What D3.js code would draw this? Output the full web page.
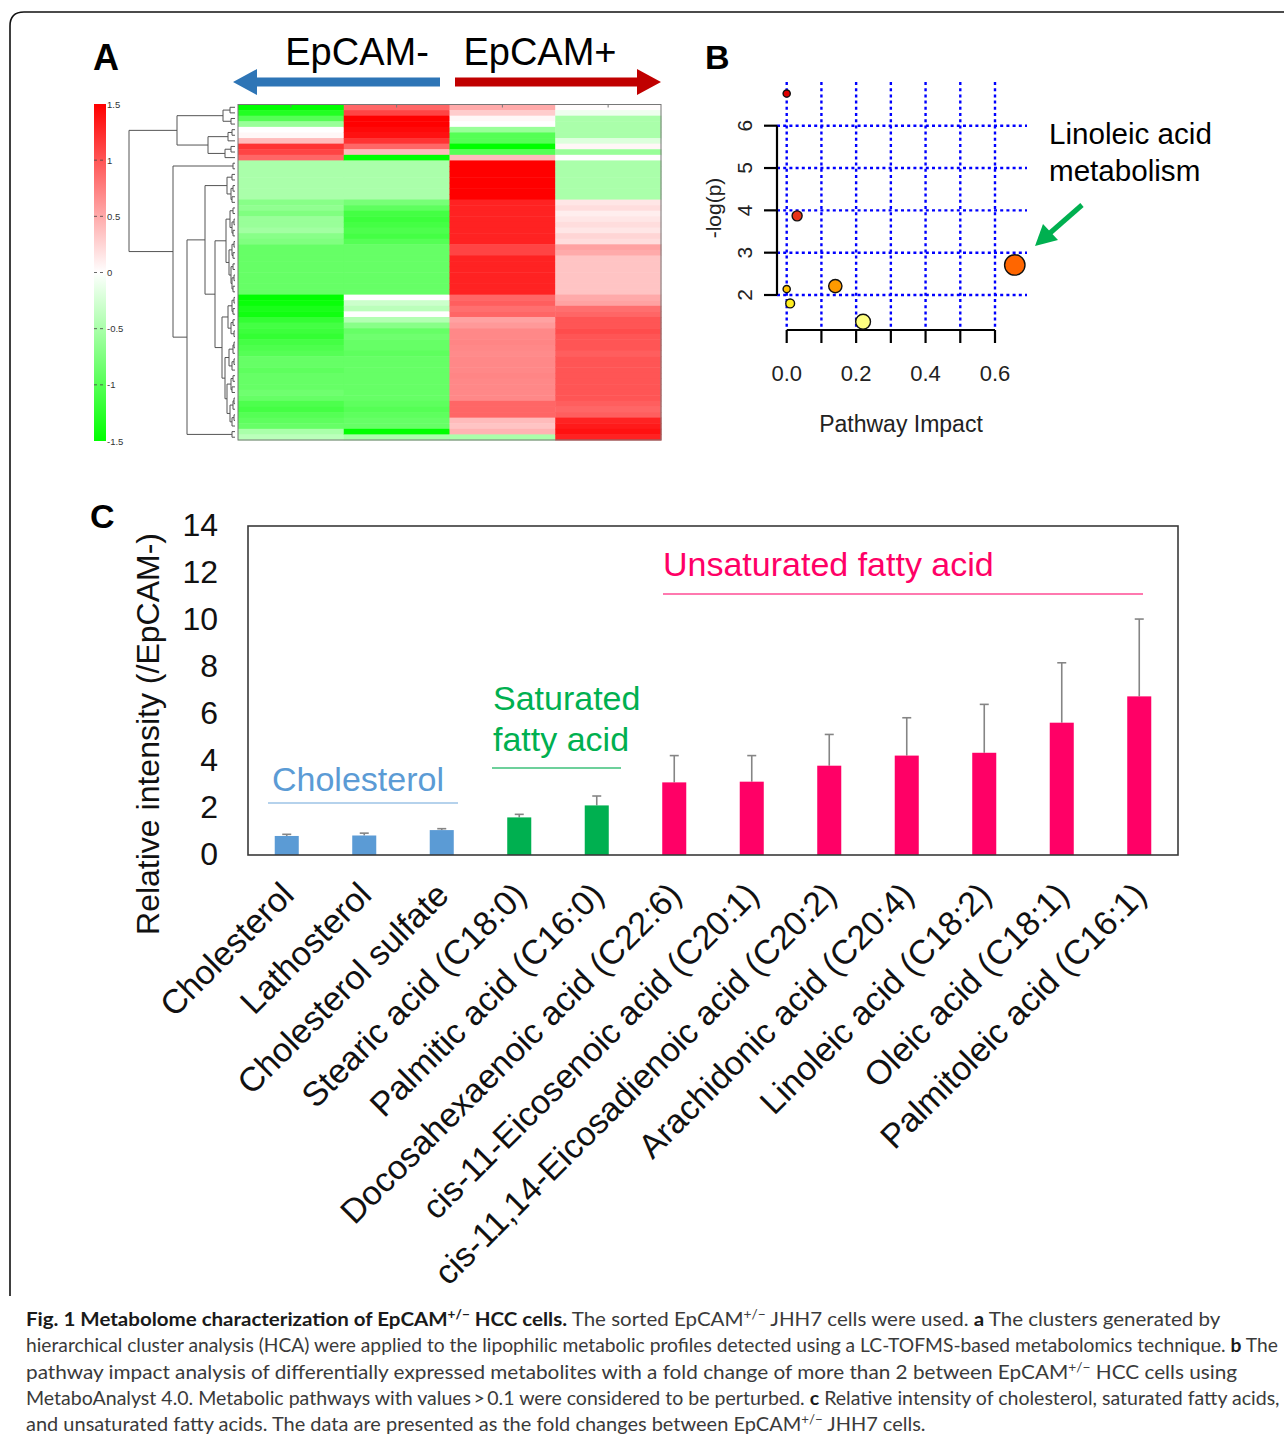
<!DOCTYPE html>
<html><head><meta charset="utf-8">
<script src="https://cdn.jsdelivr.net/npm/d3@7"></script>
<style>body{margin:0;background:#fff}svg{display:block}</style>
</head><body>
<svg id="c" width="1284" height="1444"></svg>
<script>
// ---------- DATA ----------
// Panel A heatmap (z-scores, rows top->bottom), 4 samples
const heatSamples = ["EpCAM- 1","EpCAM- 2","EpCAM+ 1","EpCAM+ 2"];
const epcamNeg1 = [-1.5,-1.3,-1.0,-0.6,0.0,0.05,0.4,1.2,1.1,0.9,
 -0.5,-0.5,-0.5,-0.5,-0.5,-0.5,-0.5,
 -0.7,-0.65,-0.75,-0.6,-0.6,-0.55,-0.7,-0.75,
 -0.9,-0.9,-0.9,-0.9,-0.9,-0.9,-0.9,-0.9,-0.9,
 -1.5,-1.45,-1.35,-1.4,
 -1.2,-1.1,-1.15,-1.2,-1.1,-1.05,-1.0,
 -0.9,-0.9,-0.95,-0.9,-0.9,-0.9,-0.85,-0.9,
 -1.05,-1.1,-1.0,-0.95,-0.9,
 -0.5,-0.4];
const epcamNeg2 = [0.9,1.1,1.5,1.5,1.45,1.4,1.2,0.9,0.4,-1.5,
 -0.5,-0.5,-0.5,-0.5,-0.5,-0.5,-0.5,
 -0.8,-0.95,-1.1,-1.15,-1.1,-1.05,-1.1,-1.0,
 -0.9,-0.9,-0.9,-0.9,-0.9,-0.9,-0.9,-0.9,-0.9,
 0.0,-0.3,-0.4,0.0,-0.45,-0.7,
 -0.9,-0.85,-0.9,-0.9,-0.95,-0.9,-0.9,-0.9,-0.9,-0.9,-0.9,-0.9,-0.9,-0.95,-1.0,-0.95,-0.9,-0.9,
 -1.5,-0.5];
const epcamPos1 = [0.5,0.3,0.05,0.0,-0.6,-1.0,-1.0,-1.5,-1.0,0.4,
 1.5,1.5,1.5,1.5,1.5,1.5,1.5,
 1.3,1.3,1.3,1.3,1.3,1.3,1.3,1.3,
 1.1,1.1,
 1.3,1.3,1.3,1.3,1.3,1.3,1.3,
 0.9,0.95,0.85,0.9,
 0.55,0.6,
 0.7,0.7,0.72,0.7,0.68,0.7,0.7,0.7,0.72,0.7,0.7,0.7,0.7,
 0.9,0.9,0.9,
 0.4,0.35,
 0.45,-0.5];
const epcamPos2 = [0.02,-0.1,-0.5,-0.5,-0.5,-0.5,-0.2,0.05,-0.6,0.0,
 -0.5,-0.5,-0.5,-0.5,-0.5,-0.5,-0.5,
 0.15,0.2,0.1,0.15,0.2,0.15,0.25,0.2,
 0.55,0.5,
 0.35,0.35,0.35,0.35,0.35,0.35,0.35,
 0.5,0.55,
 0.85,0.9,
 1.0,1.0,1.05,1.0,1.0,1.0,0.95,1.0,1.0,1.0,1.0,1.0,1.0,1.0,1.0,0.95,0.9,0.95,
 1.3,1.35,1.4,1.3];
const colorbarTicks = [1.5,1,0.5,0,-0.5,-1,-1.5];
// Row dendrogram: [height, left, right]; leaves are row indices
const B7 = [9,[5,[2,18,19],[3,[1,20,21],[2,22,23]]],[6,[3,[1,24,25],[2,26,27]],[4,[2,28,29],[3,[1,30,31],[2,32,33]]]]];
const B8 = [13,[7,[3,[1,34,35],[2,36,37]],[4,[2,38,39],[1,40,41]]],[10,[6,[2,[1,42,43],44],[3,[1,45,46],47]],[8,[4,[2,48,49],[3,50,51]],[5,[2,[1,52,53],54],[3,[1,55,56],57]]]]];
const dendroTree = [106,
  [58,[12,[5,0,1],[4,2,3]],[27,[7,[3,4,5],6],[10,[4,7,8],9]]],
  [62,[2,10,11],[48,[30,[8,[3,12,13],[4,[2,14,15],[3,16,17]]],[20,B7,B8]],[3,58,59]]]];

// Panel B pathway impact
const pathImpact = [0.0, 0.03, 0.0, 0.01, 0.14, 0.22, 0.657];
const pathLogP   = [6.76, 3.87, 2.14, 1.80, 2.21, 1.37, 2.71];
const impactXTicks = [0,0.1,0.2,0.3,0.4,0.5,0.6];
const impactXLabels = [0,0.2,0.4,0.6];
const logPTicks = [2,3,4,5,6];

// Panel C bars
const metabolites = ["Cholesterol","Lathosterol","Cholesterol sulfate","Stearic acid (C18:0)","Palmitic acid (C16:0)",
 "Docosahexaenoic acid (C22:6)","cis-11-Eicosenoic acid (C20:1)","cis-11,14-Eicosadienoic acid (C20:2)",
 "Arachidonic acid (C20:4)","Linoleic acid (C18:2)","Oleic acid (C18:1)","Palmitoleic acid (C16:1)"];
const metaboliteGroup = ["chol","chol","chol","sat","sat","unsat","unsat","unsat","unsat","unsat","unsat","unsat"];
const relIntensity = [0.81,0.83,1.06,1.60,2.11,3.09,3.12,3.80,4.23,4.35,5.63,6.75];
const relError     = [0.07,0.10,0.06,0.13,0.40,1.14,1.11,1.33,1.61,2.06,2.55,3.29];
const yTicksC = [0,2,4,6,8,10,12,14];

// ---------- DRAW ----------
const svg = d3.select("#c");
const AR = "Liberation Sans, Arial, Helvetica, sans-serif";

// outer frame
svg.append("path").attr("d","M1300,12 H24 Q10,12 10,26 V1296")
  .attr("fill","none").attr("stroke","#111").attr("stroke-width",1.6);

// ===== Panel A =====
svg.append("text").attr("x",93).attr("y",70).attr("font-family",AR).attr("font-weight","bold")
  .attr("font-size",36).text("A");
svg.append("text").attr("x",357).attr("y",65).attr("text-anchor","middle").attr("font-family",AR)
  .attr("font-size",38).text("EpCAM-");
svg.append("text").attr("x",540).attr("y",65).attr("text-anchor","middle").attr("font-family",AR)
  .attr("font-size",38).text("EpCAM+");
// arrows
function arrow(x0,x1,y,th,hl,hh,col){
  const d = x1 < x0 ? -1 : 1;
  const xb = x1 - d*hl;
  svg.append("path").attr("d",`M${x0},${y-th/2} L${xb},${y-th/2} L${xb},${y-hh/2} L${x1},${y} L${xb},${y+hh/2} L${xb},${y+th/2} L${x0},${y+th/2} Z`)
    .attr("fill",col);
}
arrow(440,233,82,9,24,26,"#2e75b6");
arrow(455,661,82,9,24,26,"#c00000");

const heatX = d3.scaleBand().domain(d3.range(4)).range([238,661]);
const heatY = d3.scaleBand().domain(d3.range(epcamNeg1.length)).range([104.5,440]);
const heatColor = d3.scaleLinear().domain([-1.5,0,1.5]).range(["#00ff00","#ffffff","#ff0000"]).clamp(true);
const heatCols = [epcamNeg1,epcamNeg2,epcamPos1,epcamPos2];
const cells = [];
heatCols.forEach((col,ci)=>col.forEach((v,ri)=>cells.push({ci,ri,v})));
svg.append("g").selectAll("rect").data(cells).join("rect")
  .attr("x",d=>heatX(d.ci)).attr("y",d=>heatY(d.ri))
  .attr("width",heatX.bandwidth()+0.5).attr("height",heatY.bandwidth()+0.5)
  .attr("fill",d=>heatColor(d.v));
svg.append("rect").attr("x",238).attr("y",104.5).attr("width",423).attr("height",335.5)
  .attr("fill","none").attr("stroke","#777").attr("stroke-width",1);
svg.append("g").selectAll("line").data(d3.range(4)).join("line")
  .attr("x1",d=>heatX(d)+heatX.bandwidth()/2).attr("x2",d=>heatX(d)+heatX.bandwidth()/2)
  .attr("y1",104.5).attr("y2",107.5).attr("stroke","#777");

// color bar
const cbY = d3.scaleLinear().domain([1.5,-1.5]).range([104,441]);
const defs = svg.append("defs");
const gr = defs.append("linearGradient").attr("id","cb").attr("x1",0).attr("y1",0).attr("x2",0).attr("y2",1);
[[0,"#ff0000"],[0.5,"#ffffff"],[1,"#00ff00"]].forEach(s=>gr.append("stop").attr("offset",s[0]).attr("stop-color",s[1]));
svg.append("rect").attr("x",94).attr("y",104).attr("width",12).attr("height",337).attr("fill","url(#cb)");
const cbg = svg.append("g");
cbg.selectAll("line").data(colorbarTicks).join("line")
  .attr("x1",94).attr("x2",106).attr("y1",d=>cbY(d)).attr("y2",d=>cbY(d))
  .attr("stroke","#444").attr("stroke-width",0.8).attr("stroke-dasharray","3,3")
  .attr("opacity",d=>Math.abs(d)===1.5?0:1);
cbg.selectAll("text").data(colorbarTicks).join("text")
  .attr("x",107).attr("y",d=>cbY(d)+3.5).attr("font-family",AR).attr("font-size",9.5).attr("fill","#333")
  .text(d=>d);

// dendrogram
const dendX = d3.scaleLinear().domain([0,106]).range([235,129]);
const dend = svg.append("g").attr("stroke","#555").attr("stroke-width",1).attr("fill","none");
function layout(n){
  if (typeof n === "number") return {h:0, y: heatY(n)+heatY.bandwidth()/2};
  const a = layout(n[1]), b = layout(n[2]);
  const x = dendX(n[0]);
  dend.append("path").attr("d",`M${dendX(a.h)},${a.y} H${x} V${b.y} H${dendX(b.h)}`);
  return {h:n[0], y:(a.y+b.y)/2};
}
layout(dendroTree);

// ===== Panel B =====
svg.append("text").attr("x",705).attr("y",69).attr("font-family",AR).attr("font-weight","bold")
  .attr("font-size",34).text("B");
const bx = d3.scaleLinear().domain([0,0.6]).range([786.7,995]);
const by = d3.scaleLinear().domain([2,6]).range([295,125.7]);
const grid = svg.append("g").attr("stroke","#0000ff").attr("stroke-width",2.4).attr("stroke-dasharray","3,3.2");
grid.selectAll(".v").data(impactXTicks).join("line").attr("class","v")
  .attr("x1",d=>bx(d)).attr("x2",d=>bx(d)).attr("y1",82).attr("y2",330);
grid.selectAll(".h").data(logPTicks).join("line").attr("class","h")
  .attr("x1",777).attr("x2",1027).attr("y1",d=>by(d)).attr("y2",d=>by(d));
// axes
const ax = svg.append("g").attr("stroke","#000").attr("stroke-width",2.2);
ax.append("line").attr("x1",777).attr("x2",777).attr("y1",by(6)).attr("y2",by(2));
ax.selectAll(".yt").data(logPTicks).join("line").attr("class","yt")
  .attr("x1",764).attr("x2",777).attr("y1",d=>by(d)).attr("y2",d=>by(d));
ax.append("line").attr("x1",bx(0)).attr("x2",bx(0.6)).attr("y1",330).attr("y2",330);
ax.selectAll(".xt").data(impactXTicks).join("line").attr("class","xt")
  .attr("x1",d=>bx(d)).attr("x2",d=>bx(d)).attr("y1",330).attr("y2",343);
svg.append("g").selectAll("text").data(logPTicks).join("text")
  .attr("transform",d=>`translate(752,${by(d)}) rotate(-90)`).attr("text-anchor","middle")
  .attr("font-family",AR).attr("font-size",21).attr("fill","#222").text(d=>d);
svg.append("g").selectAll("text").data(impactXLabels).join("text")
  .attr("x",d=>bx(d)).attr("y",381).attr("text-anchor","middle")
  .attr("font-family",AR).attr("font-size",22).attr("fill","#222").text(d=>d.toFixed(1));
svg.append("text").attr("transform","translate(721,208) rotate(-90)").attr("text-anchor","middle")
  .attr("font-family",AR).attr("font-size",21).attr("fill","#222").text("-log(p)");
svg.append("text").attr("x",901).attr("y",432).attr("text-anchor","middle")
  .attr("font-family",AR).attr("font-size",23).attr("fill","#222").text("Pathway Impact");
// points
const pColor = d3.scaleLinear().domain([1.37,1.8,2.14,2.21,2.71,3.87,6.76])
  .range(["#ffff80","#ffee22","#ffc400","#ff9a00","#ff6600","#e83218","#e00000"]);
const pR = d3.scaleSqrt().domain([0,0.657]).range([3.6,10.2]);
const pts = pathImpact.map((v,i)=>({x:v,y:pathLogP[i]}));
svg.append("g").selectAll("circle").data(pts).join("circle")
  .attr("cx",d=>bx(d.x)).attr("cy",d=>by(d.y)).attr("r",d=>pR(d.x))
  .attr("fill",d=>pColor(d.y)).attr("stroke","#111").attr("stroke-width",1.4);
// annotation
svg.append("text").attr("x",1049).attr("y",144).attr("font-family",AR).attr("font-size",29.6).text("Linoleic acid");
svg.append("text").attr("x",1049).attr("y",181).attr("font-family",AR).attr("font-size",29.6).text("metabolism");
svg.append("line").attr("x1",1082).attr("y1",205).attr("x2",1050).attr("y2",233)
  .attr("stroke","#00b050").attr("stroke-width",5);
svg.append("path").attr("d","M1035,246 L1043,224 L1058,240 Z").attr("fill","#00b050");

// ===== Panel C =====
svg.append("text").attr("x",90).attr("y",528).attr("font-family",AR).attr("font-weight","bold")
  .attr("font-size",34).text("C");
const cx = d3.scaleBand().domain(metabolites).range([248,1178]).paddingInner(0.69).paddingOuter(0.345);
const cy = d3.scaleLinear().domain([0,14]).range([855,526]);
const groupColor = {chol:"#5b9bd5", sat:"#00b050", unsat:"#ff0066"};
svg.append("g").selectAll("text").data(yTicksC).join("text")
  .attr("x",218).attr("y",d=>cy(d)+10).attr("text-anchor","end")
  .attr("font-family",AR).attr("font-size",32).attr("fill","#111").text(d=>d);
svg.append("text").attr("transform","translate(159,734) rotate(-90)").attr("text-anchor","middle")
  .attr("font-family",AR).attr("font-size",32).attr("fill","#111").text("Relative intensity (/EpCAM-)");
const bars = metabolites.map((m,i)=>({m,g:metaboliteGroup[i],v:relIntensity[i],e:relError[i]}));
const eg = svg.append("g").attr("stroke","#858585").attr("stroke-width",1.6);
eg.selectAll(".ev").data(bars).join("line").attr("class","ev")
  .attr("x1",d=>cx(d.m)+cx.bandwidth()/2).attr("x2",d=>cx(d.m)+cx.bandwidth()/2)
  .attr("y1",d=>cy(d.v)).attr("y2",d=>cy(d.v+d.e));
eg.selectAll(".ec").data(bars).join("line").attr("class","ec")
  .attr("x1",d=>cx(d.m)+cx.bandwidth()/2-4.5).attr("x2",d=>cx(d.m)+cx.bandwidth()/2+4.5)
  .attr("y1",d=>cy(d.v+d.e)).attr("y2",d=>cy(d.v+d.e));
svg.append("g").selectAll("rect").data(bars).join("rect")
  .attr("x",d=>cx(d.m)).attr("width",cx.bandwidth())
  .attr("y",d=>cy(d.v)).attr("height",d=>cy(0)-cy(d.v))
  .attr("fill",d=>groupColor[d.g]);
svg.append("rect").attr("x",248).attr("y",526).attr("width",930).attr("height",329)
  .attr("fill","none").attr("stroke","#3a3a3a").attr("stroke-width",1.6);
svg.append("g").selectAll("text").data(metabolites).join("text")
  .attr("transform",d=>`translate(${cx(d)+cx.bandwidth()/2+9},897) rotate(-45)`)
  .attr("text-anchor","end").attr("font-family",AR).attr("font-size",34).attr("fill","#111").text(d=>d);
// group labels
svg.append("text").attr("x",272).attr("y",791).attr("font-family",AR).attr("font-size",34)
  .attr("fill","#5b9bd5").text("Cholesterol");
svg.append("line").attr("x1",268).attr("x2",458).attr("y1",803).attr("y2",803).attr("stroke","#9dc3e6").attr("stroke-width",1.6);
svg.append("text").attr("x",493).attr("y",710).attr("font-family",AR).attr("font-size",34)
  .attr("fill","#00b050").text("Saturated");
svg.append("text").attr("x",493).attr("y",751).attr("font-family",AR).attr("font-size",34)
  .attr("fill","#00b050").text("fatty acid");
svg.append("line").attr("x1",492).attr("x2",621).attr("y1",768).attr("y2",768).attr("stroke","#3cc07a").attr("stroke-width",1.6);
svg.append("text").attr("x",663).attr("y",576).attr("font-family",AR).attr("font-size",34)
  .attr("fill","#ff0066").text("Unsaturated fatty acid");
svg.append("line").attr("x1",663).attr("x2",1143).attr("y1",594).attr("y2",594).attr("stroke","#ff4d94").attr("stroke-width",1.6);

// ===== Caption =====
const CAP = "Lato, 'Open Sans', sans-serif";
const capLines = [
  {y:1326, end:1221, parts:[["b","Fig. 1 Metabolome characterization of EpCAM"],["bs","+/−"],["b"," HCC cells."],["n"," The sorted EpCAM"],["s","+/−"],["n"," JHH7 cells were used. "],["b","a"],["n"," The clusters generated by"]]},
  {y:1352, end:1278, parts:[["n","hierarchical cluster analysis (HCA) were applied to the lipophilic metabolic profiles detected using a LC-TOFMS-based metabolomics technique. "],["b","b"],["n"," The"]]},
  {y:1379, end:1238, parts:[["n","pathway impact analysis of differentially expressed metabolites with a fold change of more than 2 between EpCAM"],["s","+/−"],["n"," HCC cells using"]]},
  {y:1405, end:1280, parts:[["n","MetaboAnalyst 4.0. Metabolic pathways with values\u2009>\u20090.1 were considered to be perturbed. "],["b","c"],["n"," Relative intensity of cholesterol, saturated fatty acids,"]]},
  {y:1431, end:926, parts:[["n","and unsaturated fatty acids. The data are presented as the fold changes between EpCAM"],["s","+/−"],["n"," JHH7 cells."]]}
];
capLines.forEach(L=>{
  const t = svg.append("text").attr("x",0).attr("y",0).attr("font-family",CAP).attr("font-size",19.5).attr("fill","#3a3a3a");
  let sup=false;
  L.parts.forEach(p=>{
    const ts = t.append("tspan").text(p[1]);
    const isSup = p[0]==="s"||p[0]==="bs";
    if (p[0]==="b"||p[0]==="bs") ts.attr("font-weight","bold").attr("fill","#1a1a1a");
    if (isSup){ ts.attr("font-size",13).attr("dy",-7); sup=true; }
    else if (sup){ ts.attr("dy",7); sup=false; }
  });
  const w = t.node().getComputedTextLength();
  const sx = (L.end-26)/w;
  t.attr("transform",`translate(26,${L.y}) scale(${sx},1)`);
});
</script>
</body></html>
